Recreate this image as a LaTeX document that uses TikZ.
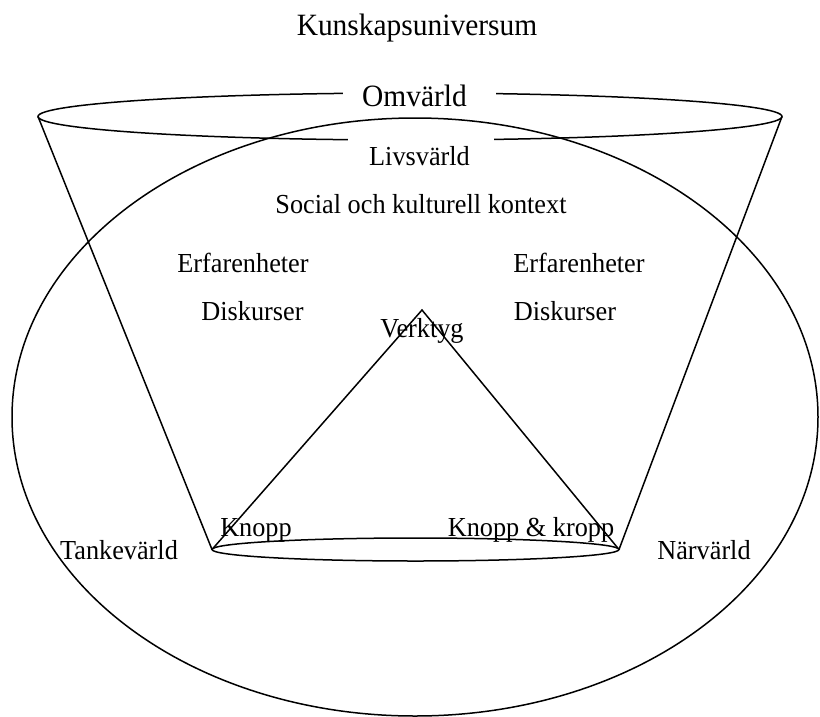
\documentclass[tikz,border=0pt]{standalone}
\usepackage{fontspec}
\setmainfont{Liberation Serif}
% slightly condensed text, as in the original layout
\newcommand\narrowtxt[1]{\scalebox{0.955}[1]{#1}}
\newcommand\narrowbig[1]{\scalebox{0.95}[1]{#1}}
\begin{document}
\begin{tikzpicture}[x=1pt,y=-1pt,
  line/.style={line width=1.5pt, black},
  lbl/.style={inner sep=0pt, anchor=base, font=\fontsize{27.5}{30}\selectfont},
  biglbl/.style={inner sep=0pt, anchor=base, font=\fontsize{31}{34}\selectfont},
  mask/.style={fill=white, draw=none}]
\useasboundingbox (0,0) rectangle (820,716);

% corner points of the cone and the triangle
\coordinate (tl) at (38,116.5);
\coordinate (tr) at (782,116.5);
\coordinate (bl) at (212,549.5);
\coordinate (br) at (619,549.5);
\coordinate (apex) at (422,310);

% the knowledge universe
\draw[line] (415,417) ellipse [x radius=403, y radius=299];

% the cone: opening, base and sides
\draw[line] (410,116.5) ellipse [x radius=372, y radius=23.5];
\draw[line] (415.5,549.5) ellipse [x radius=203.5, y radius=11.5];
\draw[line] (tl) -- (bl);
\draw[line] (tr) -- (br);

% the triangle
\draw[line] (bl) -- (apex) -- (br);

% white boxes behind the upper labels
\fill[mask] (343,80) rectangle (496,112);
\fill[mask] (348,131) rectangle (494,184);

% labels
\node[biglbl] (univ) at (417,35) {\narrowbig{Kunskapsuniversum}};
\node[biglbl] (omv) at (414.5,106) {\narrowbig{Omvärld}};
\node[lbl] (livs) at (419.5,165) {\narrowtxt{Livsvärld}};
\node[lbl] (soc) at (421,213) {\narrowtxt{Social och kulturell kontext}};
\node[lbl] (erfL) at (243,272) {\narrowtxt{Erfarenheter}};
\node[lbl] (erfR) at (579,272) {\narrowtxt{Erfarenheter}};
\node[lbl] (diskL) at (252.5,320) {\narrowtxt{Diskurser}};
\node[lbl] (diskR) at (565,320) {\narrowtxt{Diskurser}};
\node[lbl] (verk) at (422,337) {\narrowtxt{Verktyg}};
\node[lbl] (knopp) at (256,536) {\narrowtxt{Knopp}};
\node[lbl] (knkr) at (531,536) {\narrowtxt{Knopp \& kropp}};
\node[lbl] (tank) at (119,559) {\narrowtxt{Tankevärld}};
\node[lbl] (narv) at (704,559) {\narrowtxt{Närvärld}};
\end{tikzpicture}
\end{document}
